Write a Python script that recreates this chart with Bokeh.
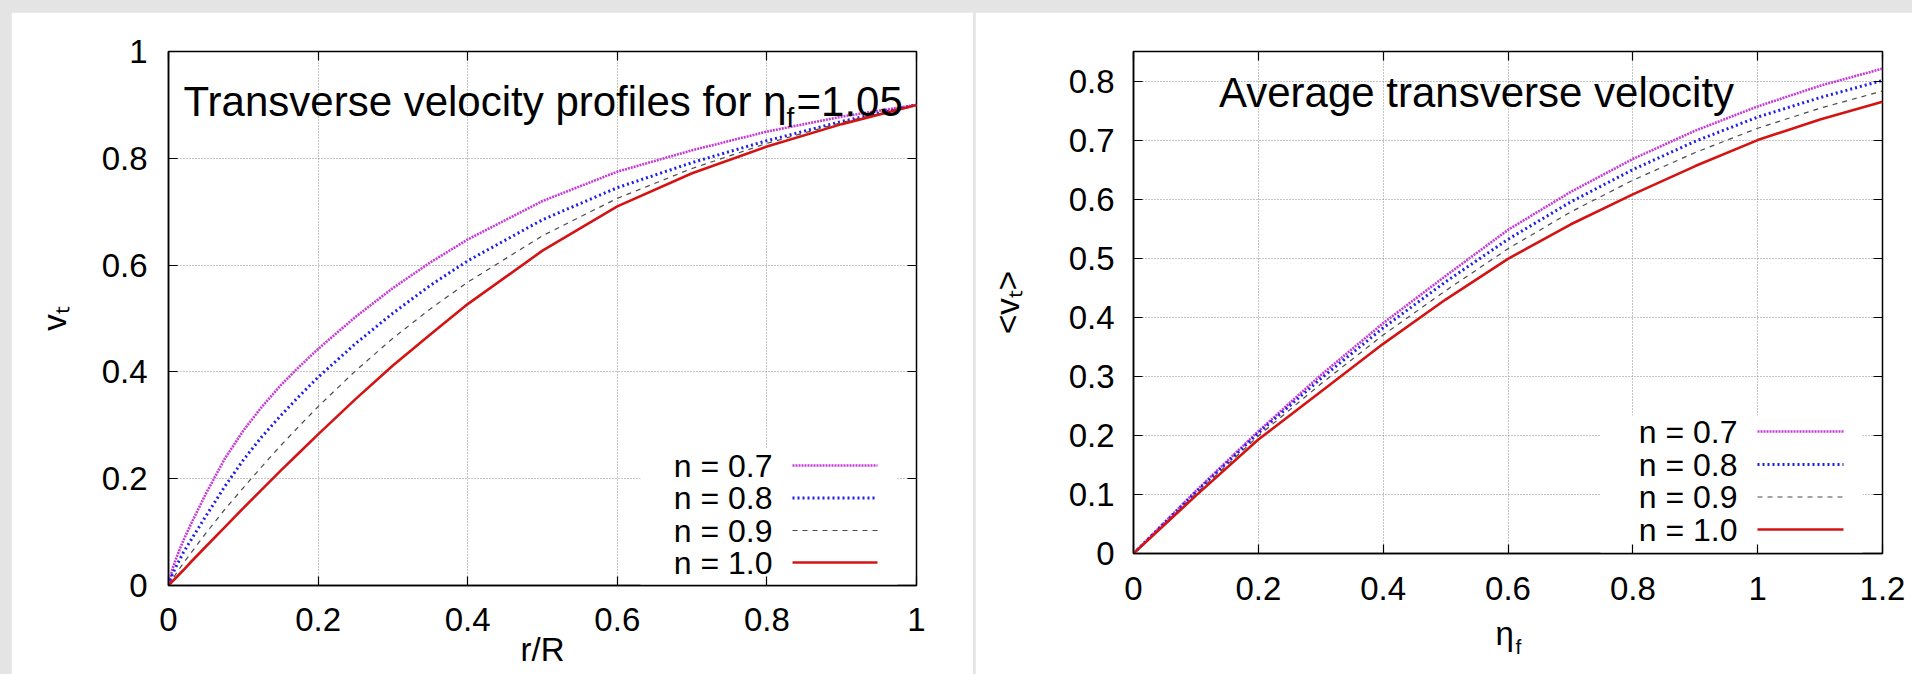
import math
from bokeh.plotting import figure
from bokeh.models import (Label, FixedTicker, PrintfTickFormatter, LinearAxis,
                          BoxAnnotation, GlobalInlineStyleSheet, Range1d)
from bokeh.embed import file_html
from bokeh.resources import INLINE

# ---------------- data ----------------
series_labels = ["n = 0.7", "n = 0.8", "n = 0.9", "n = 1.0"]

# left panel: transverse velocity profiles for eta_f = 1.05
r_over_R = [0, 0.005, 0.01, 0.02, 0.03, 0.05, 0.075, 0.1, 0.125, 0.15, 0.175, 0.2, 0.25, 0.3, 0.35,
            0.4, 0.5, 0.6, 0.7, 0.8, 0.9, 1.0]
vt_n07 = [0, 0.030, 0.050, 0.085, 0.115, 0.172, 0.237, 0.290, 0.335, 0.375, 0.410, 0.443, 0.503, 0.557, 0.605,
          0.648, 0.720, 0.775, 0.815, 0.850, 0.878, 0.900]
vt_n08 = [0, 0.020, 0.035, 0.062, 0.085, 0.130, 0.185, 0.235, 0.279, 0.318, 0.355, 0.390, 0.453, 0.510, 0.562,
          0.608, 0.685, 0.745, 0.792, 0.833, 0.869, 0.900]
vt_n09 = [0, 0.011, 0.022, 0.042, 0.061, 0.098, 0.142, 0.183, 0.223, 0.262, 0.299, 0.335, 0.402, 0.463, 0.518,
          0.568, 0.655, 0.725, 0.781, 0.828, 0.867, 0.900]
vt_n10 = [0, 0.0073, 0.0145, 0.029, 0.044, 0.073, 0.109, 0.145, 0.180, 0.215, 0.249, 0.283, 0.349, 0.412, 0.470,
          0.527, 0.627, 0.710, 0.772, 0.822, 0.864, 0.900]

# right panel: average transverse velocity vs eta_f
eta_f = [0, 0.1, 0.2, 0.3, 0.4, 0.5, 0.6, 0.7, 0.8, 0.9, 1.0, 1.1, 1.2]
avg_n07 = [0, 0.106, 0.207, 0.302, 0.390, 0.470, 0.548, 0.612, 0.668, 0.716, 0.757, 0.792, 0.821]
avg_n08 = [0, 0.104, 0.204, 0.296, 0.382, 0.460, 0.532, 0.595, 0.650, 0.698, 0.739, 0.772, 0.801]
avg_n09 = [0, 0.101, 0.199, 0.287, 0.370, 0.445, 0.516, 0.578, 0.632, 0.679, 0.720, 0.754, 0.783]
avg_n10 = [0, 0.098, 0.193, 0.274, 0.355, 0.430, 0.499, 0.557, 0.608, 0.656, 0.700, 0.735, 0.765]

left_xticks = [0, 0.2, 0.4, 0.6, 0.8, 1.0]
left_yticks = [0, 0.2, 0.4, 0.6, 0.8, 1.0]
right_xticks = [0, 0.2, 0.4, 0.6, 0.8, 1.0, 1.2]
right_yticks = [0, 0.1, 0.2, 0.3, 0.4, 0.5, 0.6, 0.7, 0.8]

# ---------------- styles ----------------
FONT = "Liberation Sans"
styles = [
    dict(color="#c63cd6", line_width=2.6, line_dash="2 1"),
    dict(color="#1f1fe6", line_width=3.0, line_dash="2 3"),
    dict(color="#4a4a4a", line_width=1.2, line_dash="5 5"),
    dict(color="#d41414", line_width=2.6, line_dash="solid"),
]
TICK_PX = "33px"


def mirror_axis(ticks):
    # gnuplot-style mirrored tick marks (no labels drawn)
    return LinearAxis(ticker=FixedTicker(ticks=ticks), axis_line_color=None,
                      major_tick_in=9, major_tick_out=0, minor_tick_in=0, minor_tick_out=0,
                      major_tick_line_color="black", major_tick_line_width=1.2,
                      major_label_text_color=None, major_label_text_font_size="1px",
                      major_label_standoff=0)


def make_fig(width, height, xr, yr, xt, yt, mb):
    p = figure(width=width, height=height, x_range=Range1d(*xr), y_range=Range1d(*yr),
               output_backend="svg", toolbar_location=None,
               min_border_left=mb[0], min_border_right=mb[1],
               min_border_top=mb[2], min_border_bottom=mb[3])
    p.background_fill_color = "white"
    p.border_fill_color = "white"
    p.outline_line_color = "black"
    p.outline_line_width = 1.5
    xa = p.below[0]
    ya = p.left[0]
    xa.ticker = FixedTicker(ticks=xt)
    ya.ticker = FixedTicker(ticks=yt)
    for ax in (xa, ya):
        ax.formatter = PrintfTickFormatter(format="%g")
        ax.major_tick_in = 9
        ax.major_tick_out = 0
        ax.minor_tick_in = 0
        ax.minor_tick_out = 0
        ax.axis_line_color = "black"
        ax.axis_line_width = 1.5
        ax.major_tick_line_color = "black"
        ax.major_tick_line_width = 1.2
        ax.major_label_text_font = FONT
        ax.major_label_text_font_size = TICK_PX
        ax.major_label_text_color = "black"
        ax.axis_label_text_font = FONT
        ax.axis_label_text_font_style = "normal"
        ax.axis_label_text_font_size = "33px"
        ax.axis_label_text_color = "black"
    p.add_layout(mirror_axis(yt), "right")
    p.add_layout(mirror_axis(xt), "above")
    p.xgrid.ticker = FixedTicker(ticks=xt)
    p.ygrid.ticker = FixedTicker(ticks=yt)
    for g in (p.xgrid, p.ygrid):
        g.grid_line_color = "#8a8a8a"
        g.grid_line_dash = "1 2"
        g.grid_line_width = 1
    return p, xa, ya


def lab(p, x, y, text, size, align="left", baseline="alphabetic"):
    p.add_layout(Label(x=x, y=y, text=text, text_font=FONT, text_font_size=size,
                       text_color="black", text_align=align, text_baseline=baseline))


# ---------------- left panel ----------------
# frame geometry on page: x 168..916, y 51..585
def lx(px):
    return (px - 168) / 748.0


def ly(py):
    return (585 - py) / 534.0


p1, x1, y1 = make_fig(962, 662, (0, 1), (0, 1), left_xticks, left_yticks, (157, 57, 39, 89))
y1.major_label_standoff = 21
x1.major_label_standoff = 22
y1.axis_label = "v\u209c"
y1.axis_label_standoff = 26
x1.axis_label = "r/R"
x1.axis_label_standoff = -3

p1.add_layout(BoxAnnotation(left=lx(640), right=lx(897), bottom=0, top=ly(448),
                            fill_color="white", fill_alpha=1.0, line_color=None,
                            level="underlay"))

left_series = [vt_n07, vt_n08, vt_n09, vt_n10]
for ys, st in zip(left_series, styles):
    p1.line(r_over_R, ys, **st)

# legend (text left, sample right, like gnuplot)
left_rows = [465, 497.5, 530, 562]
for name, st, py in zip(series_labels, styles, left_rows):
    lab(p1, lx(772), ly(py), name, "32px", align="right", baseline="middle")
    p1.line([lx(792), lx(877)], [ly(py), ly(py)], **st)

# title with subscript
lab(p1, lx(786), ly(101), "Transverse velocity profiles for η", "42px", align="right")
lab(p1, lx(786), ly(117), "f", "28px")
lab(p1, lx(796), ly(101), "=1.05", "42px")


# ---------------- right panel ----------------
# frame geometry on page: x 1133..1882, y 51..553
def rx(px):
    return 1.2 * (px - 1133) / 749.0


def ry(py):
    return 0.85 * (553 - py) / 502.0


p2, x2, y2 = make_fig(937, 662, (0, 1.2), (0, 0.85), right_xticks, right_yticks, (158, 30, 39, 121))
y2.major_label_standoff = 19
x2.major_label_standoff = 23
y2.axis_label = "<v\u209c>"
y2.axis_label_standoff = 40
x2.axis_label = "η\u2009"
x2.axis_label_standoff = 12

# second (label-only) axis carrying the subscript of eta_f
sub_axis = LinearAxis(ticker=FixedTicker(ticks=[]), axis_line_color=None,
                      major_tick_in=0, major_tick_out=0, minor_tick_in=0, minor_tick_out=0,
                      major_label_standoff=0, axis_label="\u2003f",
                      axis_label_text_font=FONT, axis_label_text_font_style="normal",
                      axis_label_text_font_size="21px", axis_label_text_color="black",
                      axis_label_standoff=-20)
p2.add_layout(sub_axis, "below")

p2.add_layout(BoxAnnotation(left=rx(1600), right=rx(1862), bottom=0, top=ry(415),
                            fill_color="white", fill_alpha=1.0, line_color=None,
                            level="underlay"))

right_series = [avg_n07, avg_n08, avg_n09, avg_n10]
for ys, st in zip(right_series, styles):
    p2.line(eta_f, ys, **st)

right_rows = [431, 464, 496.5, 529]
for name, st, py in zip(series_labels, styles, right_rows):
    lab(p2, rx(1737), ry(py), name, "32px", align="right", baseline="middle")
    p2.line([rx(1757), rx(1843)], [ry(py), ry(py)], **st)

lab(p2, rx(1476), ry(92), "Average transverse velocity", "42px", align="center")

# ---------------- page ----------------
p1.stylesheets = [GlobalInlineStyleSheet(css=(
    "html, body { background-color: #e4e4e4; overflow: hidden; }"
    "body { margin: 0; display: flex; flex-direction: row; align-items: flex-start; gap: 2px;"
    " padding: 12px 0 0 11px; box-sizing: border-box; }"
    "body > div, body > div > div { flex: none; }"
))]

open("out.html", "w").write(file_html([p1, p2], INLINE))
